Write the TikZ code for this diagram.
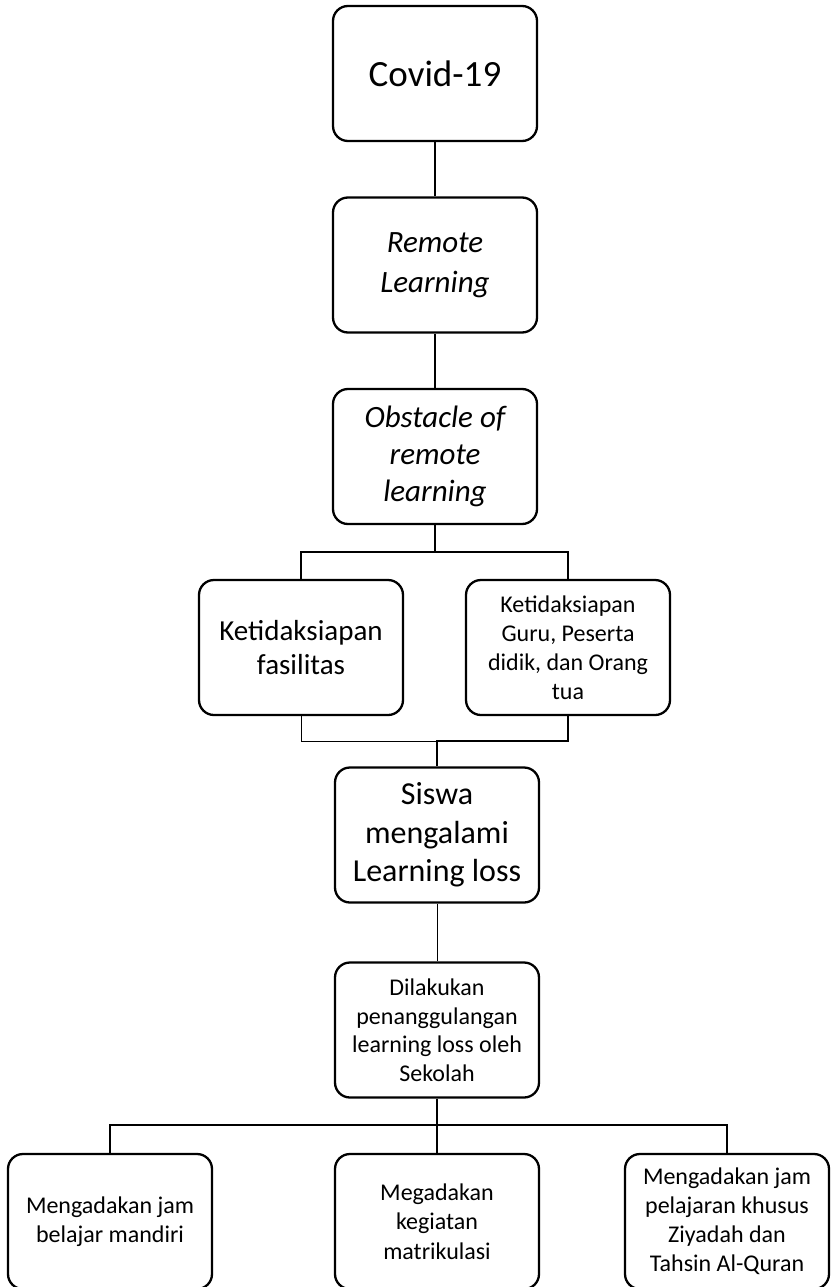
\documentclass[tikz,border=0pt]{standalone}
\usepackage{fontspec}
\setmainfont{Carlito}
\begin{document}
\begin{tikzpicture}[x=1pt,y=-1pt,
  box/.style={draw, line width=2.3pt, rounded corners=15pt, minimum width=204pt, minimum height=135pt, inner sep=0pt, align=center},
  thickline/.style={line width=2.3pt},
  thinline/.style={line width=1pt}]
\useasboundingbox (0,0) rectangle (833,1287);
\clip (0,0) rectangle (833,1287);
\node[box, font=\fontsize{37}{44}\selectfont] (covid) at (435,73.5) {Covid-19};
\node[box, font=\fontsize{31}{40}\selectfont\itshape] (remote) at (435,265) {Remote\\Learning};
\node[box, font=\fontsize{31}{37}\selectfont\itshape] (obst) at (435,456.5) {Obstacle of\\remote\\learning};
\node[box, font=\fontsize{29}{34}\selectfont] (k1) at (301,647.5) {Ketidaksiapan\\fasilitas};
\node[box, font=\fontsize{24}{29}\selectfont] (k2) at (568,647.5) {Ketidaksiapan\\Guru, Peserta\\didik, dan Orang\\tua};
\node[box, font=\fontsize{32}{38.5}\selectfont] (siswa) at (437,835) {Siswa\\mengalami\\Learning loss};
\node[box, font=\fontsize{24}{28.5}\selectfont] (dil) at (437,1030) {Dilakukan\\penanggulangan\\learning loss oleh\\Sekolah};
\node[box, font=\fontsize{24}{29.5}\selectfont] (b1) at (110,1221.5) {Mengadakan jam\\belajar mandiri};
\node[box, font=\fontsize{24}{29.5}\selectfont] (b2) at (437,1221.5) {Megadakan\\kegiatan\\matrikulasi};
\node[box, font=\fontsize{24}{29}\selectfont] (b3) at (727,1221.5) {Mengadakan jam\\pelajaran khusus\\Ziyadah dan\\Tahsin Al-Quran};
\coordinate (s1) at (435,552);
\coordinate (j1) at (437,741);
\coordinate (j2) at (437,1125);
\draw[thickline] (covid.south) -- (remote.north);
\draw[thickline] (remote.south) -- (obst.north);
\draw[thickline] (obst.south) -- (s1);
\draw[thickline] (k1.north) |- (s1) -| (k2.north);
\draw[thinline] (k1.south) |- (j1);
\draw[thickline] (k2.south) |- (j1) -- (siswa.north);
\draw[thinline] (siswa.south) -- (dil.north);
\draw[thickline] (dil.south) -- (j2);
\draw[thickline] (b1.north) |- (j2) -| (b3.north);
\draw[thickline] (j2) -- (b2.north);
\end{tikzpicture}
\end{document}
